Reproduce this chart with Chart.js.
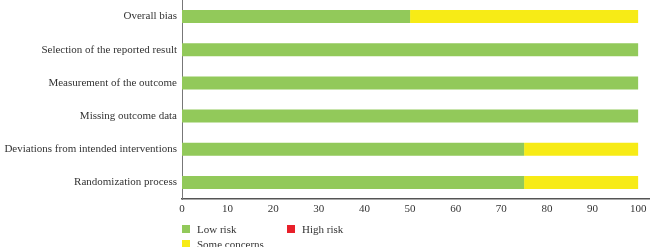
<!DOCTYPE html>
<html lang="en">
<head>
  <meta charset="UTF-8" />
  <title>Risk of bias</title>
  <script src="https://cdn.jsdelivr.net/npm/chart.js"></script>
  <style>
    html, body { margin: 0; padding: 0; background: #fff; }
    #wrap { position: relative; width: 650px; height: 247px; font-family: "Liberation Serif", "DejaVu Serif", serif; color: #333; }
    .leg { position: absolute; font-size: 11px; display: flex; align-items: center; white-space: nowrap; }
    .leg i { display: inline-block; width: 8px; height: 8px; margin-right: 7px; }
  </style>
</head>
<body>
  <div id="wrap">
    <canvas id="chart" width="650" height="247"></canvas>
    <div class="leg" style="left:182px; top:223px;"><i style="background:#92c95a"></i>Low risk</div>
    <div class="leg" style="left:287px; top:223px;"><i style="background:#e8202a"></i>High risk</div>
    <div class="leg" style="left:182px; top:238px;"><i style="background:#f7eb16"></i>Some concerns</div>
  </div>

  <script>
    const domains = [
      'Overall bias',
      'Selection of the reported result',
      'Measurement of the outcome',
      'Missing outcome data',
      'Deviations from intended interventions',
      'Randomization process'
    ];
    const lowRisk = [50, 100, 100, 100, 75, 75];
    const highRisk = [0, 0, 0, 0, 0, 0];
    const someConcerns = [50, 0, 0, 0, 25, 25];
    const xTicks = [0, 10, 20, 30, 40, 50, 60, 70, 80, 90, 100];

    const font = { family: '"Liberation Serif", "DejaVu Serif", serif', size: 11 };

    new Chart(document.getElementById('chart'), {
      type: 'bar',
      data: {
        labels: domains,
        datasets: [
          { label: 'Low risk', data: lowRisk, backgroundColor: '#92c95a' },
          { label: 'High risk', data: highRisk, backgroundColor: '#e8202a' },
          { label: 'Some concerns', data: someConcerns, backgroundColor: '#f7eb16' }
        ]
      },
      options: {
        indexAxis: 'y',
        responsive: false,
        animation: false,
        barThickness: 13,
        inflateAmount: 0,
        layout: { padding: 0 },
        plugins: { legend: { display: false }, tooltip: { enabled: false } },
        scales: {
          x: {
            stacked: true,
            min: 0,
            max: 102.6,
            grid: { display: false, drawTicks: false, tickLength: 0 },
            border: { display: true, color: '#555', width: 1.5 },
            afterBuildTicks: s => { s.ticks = xTicks.map(v => ({ value: v })); },
            afterFit: s => { s.height = 48; s.paddingLeft = 0; s.paddingRight = 0; },
            ticks: { color: '#333', font: font, padding: 4 }
          },
          y: {
            stacked: true,
            grid: { display: false, drawTicks: false, tickLength: 0 },
            border: { display: true, color: '#777', width: 1 },
            afterFit: s => { s.width = 182; s.paddingTop = 0; s.paddingBottom = 0; },
            ticks: { color: '#333', font: font, padding: 5 }
          }
        }
      }
    });
  </script>
</body>
</html>
